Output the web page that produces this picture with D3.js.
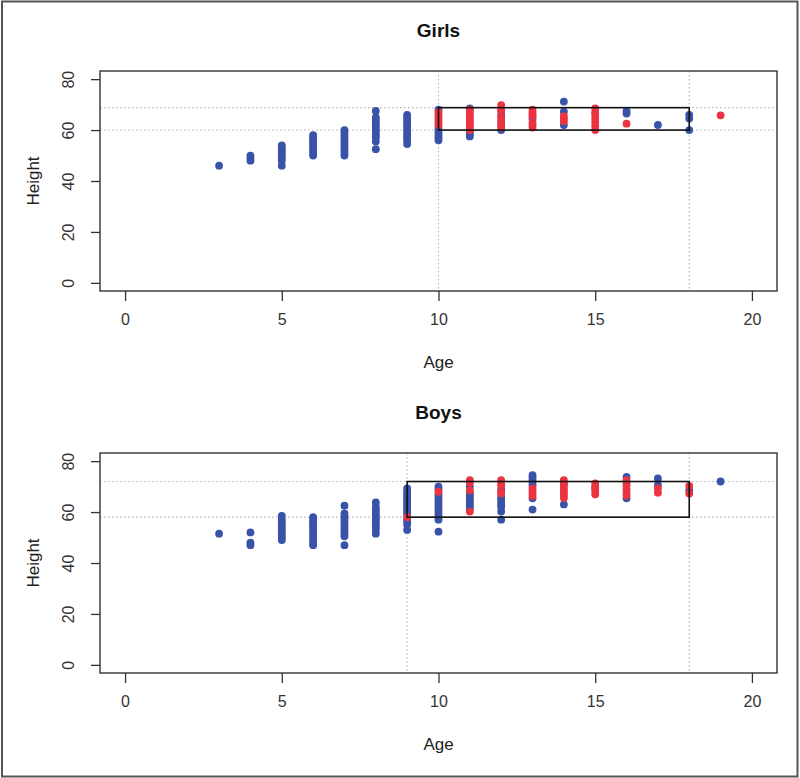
<!DOCTYPE html>
<html><head><meta charset="utf-8">
<script src="https://cdn.jsdelivr.net/npm/d3@7"></script>
<style>
body{margin:0;background:#fff;}
text{font-family:"Liberation Sans",Arial,sans-serif;}
</style></head>
<body>
<svg id="chart" width="800" height="778"></svg>
<script>
// ---- data ----
const xTicks = [0, 5, 10, 15, 20];
const yTicks = [0, 20, 40, 60, 80];

const girlsBlue = [
  [3,46],
  [4,48],[4,49],[4,50],
  [5,46],[5,48],[5,49],[5,50],[5,51],[5,52],[5,53],[5,54],
  [6,50],[6,51],[6,52],[6,53],[6,54],[6,55],[6,56],[6,57],[6,58],
  [7,50],[7,51],[7,52],[7,53],[7,54],[7,55],[7,56],[7,57],[7,58],[7,59],[7,60],
  [8,52.5],[8,55.5],[8,57],[8,58],[8,59],[8,60],[8,61],[8,62],[8,63],[8,64],[8,65],[8,67.5],
  [9,54.5],[9,56],[9,57],[9,58],[9,59],[9,60],[9,61],[9,62],[9,63],[9,64],[9,65],[9,66],
  [10,56],[10,57],[10,58],[10,59],[10,60],[10,61],[10,68],
  [11,57.5],[11,58.5],[11,59.5],[11,68.5],
  [12,66],[12,63],[12,60],
  [13,64.5],
  [14,71.2],[14,67.2],[14,62],
  [16,66.5],[16,67.5],
  [17,62],
  [18,60],[18,64.5],[18,66]
];
const girlsRed = [
  [10,62],[10,63],[10,64],[10,65],[10,66],[10,67],
  [11,60],[11,61],[11,62],[11,63],[11,64],[11,65],[11,66],[11,67],[11,68],
  [12,69.8],[12,68],[12,67.5],[12,65],[12,64],[12,62],[12,61],
  [13,61],[13,62],[13,63],[13,65.5],[13,66],[13,67],[13,68],
  [14,63.5],[14,64.5],[14,65.5],
  [15,60],[15,61.5],[15,63],[15,64.5],[15,66],[15,67],[15,68.5],
  [16,62.5],
  [19,65.8]
];
const boysBlue = [
  [3,51.5],
  [4,52],[4,48],[4,47],
  [5,49],[5,50],[5,51],[5,52],[5,53],[5,54],[5,55],[5,56],[5,57],[5,58.5],
  [6,47],[6,48],[6,49],[6,50],[6,51],[6,52],[6,53],[6,54],[6,55],[6,56],[6,57],[6,58],
  [7,47],[7,50.5],[7,51.5],[7,52.5],[7,53.5],[7,54.5],[7,55.5],[7,56.5],[7,57.5],[7,58.5],[7,59.5],[7,62.5],
  [8,51.5],[8,53],[8,54],[8,55],[8,56],[8,57],[8,58],[8,59],[8,60],[8,61],[8,62],[8,63.8],
  [9,53],[9,55],[9,56],[9,57],[9,59],[9,60],[9,61],[9,62],[9,63],[9,64],[9,65],[9,66],[9,67],[9,68],[9,69.3],
  [10,52.3],[10,57],[10,58],[10,59],[10,60],[10,61],[10,62],[10,63],[10,64],[10,65],[10,66],[10,67],[10,69],[10,70],
  [11,61.5],[11,62.5],[11,63.5],[11,64.5],[11,65.5],[11,66.5],[11,67.5],[11,70],
  [12,69],[12,66],[12,65],[12,64],[12,63],[12,62],[12,60.2],[12,57],
  [13,74.5],[13,73.5],[13,72.5],[13,71.5],[13,70.5],[13,65.4],[13,61],
  [14,71],[14,63],
  [15,69.5],
  [16,73.8],[16,65.4],[16,71.5],
  [17,73.2],[17,70.6],
  [18,68.6],
  [19,72]
];
const boysRed = [
  [9,58],
  [10,68],
  [11,72.5],[11,71.5],[11,68.5],[11,60.2],
  [12,72.5],[12,71.5],[12,70.5],[12,68],[12,67.3],
  [13,69.3],[13,68.3],[13,67.3],[13,66.3],
  [14,72.5],[14,71.5],[14,70.5],[14,69.5],[14,68.5],[14,67.5],[14,66.5],[14,65.5],
  [15,71.3],[15,70],[15,68.5],[15,67],
  [16,72.5],[16,70.5],[16,69],[16,67.5],[16,66.5],
  [17,69.3],[17,67.6],
  [18,70.3],[18,67.3]
];
// reference lines: [ageLow, ageHigh, heightLow, heightHigh]
const girlsRange = [10, 18, 60, 68.8];
const boysRange = [9, 18, 58, 72];

// ---- drawing ----
const svg = d3.select("#chart");
const BLUE = "#3853a8", RED = "#ec3340";

svg.append("rect").attr("x",2).attr("y",1.5).attr("width",795.5).attr("height",775)
  .attr("fill","none").attr("stroke","#555").attr("stroke-width",2);

const x = d3.scaleLinear().domain([-0.8, 20.8]).range([100, 777]);

function panel(top, title, blue, red, rng) {
  const y = d3.scaleLinear().domain([-3.2, 83.2]).range([top + 220, top]);
  const g = svg.append("g");
  const x0 = x.range()[0], x1 = x.range()[1], yb = top + 220;

  // dotted reference lines
  const dot = {stroke:"#b5b5b5", "stroke-width":1.1, "stroke-dasharray":"1.5,2.5"};
  [rng[2], rng[3]].forEach(v => {
    const l = g.append("line").attr("x1",x0).attr("x2",x1).attr("y1",y(v)).attr("y2",y(v));
    Object.entries(dot).forEach(([k,val]) => l.attr(k,val));
  });
  [rng[0], rng[1]].forEach(v => {
    const l = g.append("line").attr("x1",x(v)).attr("x2",x(v)).attr("y1",top).attr("y2",yb);
    Object.entries(dot).forEach(([k,val]) => l.attr(k,val));
  });

  // points
  g.selectAll("circle.b").data(blue).join("circle").attr("class","b")
    .attr("cx",d=>x(d[0])).attr("cy",d=>y(d[1])).attr("r",3.9).attr("fill",BLUE);
  g.selectAll("circle.r").data(red).join("circle").attr("class","r")
    .attr("cx",d=>x(d[0])).attr("cy",d=>y(d[1])).attr("r",3.9).attr("fill",RED);

  // range rectangle
  g.append("rect").attr("x",x(rng[0])).attr("y",y(rng[3]))
    .attr("width",x(rng[1])-x(rng[0])).attr("height",y(rng[2])-y(rng[3]))
    .attr("fill","none").attr("stroke","#111").attr("stroke-width",1.6);

  // plot box
  g.append("rect").attr("x",x0).attr("y",top).attr("width",x1-x0).attr("height",220)
    .attr("fill","none").attr("stroke","#333").attr("stroke-width",1.4);

  // x axis
  const xa = g.append("g").attr("transform",`translate(0,${yb})`)
    .call(d3.axisBottom(x).tickValues(xTicks).tickSize(10).tickPadding(13).tickFormat(d3.format("d")));
  xa.select(".domain").remove();
  xa.selectAll("line").attr("stroke","#333").attr("stroke-width",1.3);
  xa.selectAll("text").attr("font-size",16).attr("fill","#333")
    .style("font-family","'Liberation Sans',Arial,sans-serif");

  // y axis
  const ya = g.append("g").attr("transform",`translate(${x0},0)`)
    .call(d3.axisLeft(y).tickValues(yTicks).tickSize(9).tickFormat(d3.format("d")));
  ya.select(".domain").remove();
  ya.selectAll("line").attr("stroke","#333").attr("stroke-width",1.3);
  ya.selectAll("text").attr("x",null).attr("dy",null)
    .attr("text-anchor","middle").attr("font-size",16).attr("fill","#333")
    .style("font-family","'Liberation Sans',Arial,sans-serif")
    .attr("transform","translate(-32,0) rotate(-90)").attr("dy","0.35em");

  // titles
  g.append("text").attr("x",(x0+x1)/2).attr("y",top-34).attr("text-anchor","middle")
    .attr("font-size",19).attr("font-weight","bold").attr("fill","#111").text(title);
  g.append("text").attr("x",(x0+x1)/2).attr("y",yb+77).attr("text-anchor","middle")
    .attr("font-size",17).attr("fill","#222").text("Age");
  g.append("text").attr("transform",`translate(33,${top+110}) rotate(-90)`)
    .attr("dy","0.35em").attr("text-anchor","middle")
    .attr("font-size",17).attr("fill","#222").text("Height");
}

panel(71, "Girls", girlsBlue, girlsRed, girlsRange);
panel(453, "Boys", boysBlue, boysRed, boysRange);
</script>
</body></html>
